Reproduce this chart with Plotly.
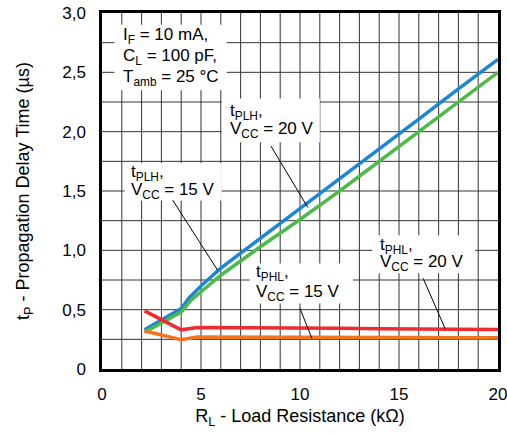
import plotly.graph_objects as go

# Load resistance (kOhm) and propagation delay (us) for each curve
rl_plh20 = [2.15, 4.0, 4.4, 5.0, 6.0, 8.0, 10.0, 12.0, 14.0, 16.0, 18.0, 20.0]
tplh_20 = [0.33, 0.51, 0.60, 0.70, 0.85, 1.10, 1.35, 1.60, 1.855, 2.105, 2.36, 2.61]

rl_plh15 = [2.15, 4.0, 4.5, 5.0, 6.0, 8.0, 10.0, 12.0, 14.0, 16.0, 18.0, 20.0]
tplh_15 = [0.31, 0.48, 0.58, 0.65, 0.79, 1.03, 1.26, 1.50, 1.75, 2.00, 2.25, 2.50]

rl_phl = [2.15, 4.0, 4.8, 6.0, 8.0, 10.0, 12.0, 14.0, 16.0, 18.0, 20.0]
tphl_20 = [0.49, 0.33, 0.35, 0.35, 0.35, 0.345, 0.343, 0.34, 0.338, 0.335, 0.333]
tphl_15 = [0.32, 0.247, 0.27, 0.27, 0.27, 0.268, 0.267, 0.266, 0.265, 0.264, 0.264]

# Labelled ticks
x_ticks = [0, 5, 10, 15, 20]
x_tick_text = ["0", "5", "10", "15", "20"]
y_ticks = [0, 0.5, 1.0, 1.5, 2.0, 2.5, 3.0]
y_tick_text = ["0", "0,5", "1,0", "1,5", "2,0", "2,5", "3,0"]

# Grid divisions: every 1 kOhm and every 0.25 us
X_MAX, Y_MAX = 20, 3.0
X_STEP, Y_STEP = 1, 0.25

FONT = "Liberation Sans, Arial, sans-serif"
BLUE = "#1c86d1"
GREEN = "#4dba4a"
RED = "#ee2b30"
ORANGE = "#f3731f"
GRID = "#333333"

fig = go.Figure()

# Grid drawn as one polyline trace beneath the curves
gx, gy = [], []
n_x = int(round(X_MAX / X_STEP))
for i in range(1, n_x):
    v = i * X_STEP
    gx += [v, v, None]
    gy += [0, Y_MAX, None]
n_y = int(round(Y_MAX / Y_STEP))
for j in range(1, n_y):
    v = j * Y_STEP
    gx += [0, X_MAX, None]
    gy += [v, v, None]
fig.add_trace(go.Scatter(x=gx, y=gy, mode="lines", hoverinfo="skip",
                         line=dict(color=GRID, width=1)))

fig.add_trace(go.Scatter(x=rl_plh20, y=tplh_20, mode="lines",
                         line=dict(color=BLUE, width=3.5)))
fig.add_trace(go.Scatter(x=rl_plh15, y=tplh_15, mode="lines",
                         line=dict(color=GREEN, width=3.5)))
fig.add_trace(go.Scatter(x=rl_phl, y=tphl_15, mode="lines",
                         line=dict(color=ORANGE, width=3.5)))
fig.add_trace(go.Scatter(x=rl_phl, y=tphl_20, mode="lines",
                         line=dict(color=RED, width=3.5)))

# White label boxes that blank out the grid behind the text
boxes = [
    (0.63, 6.30, 2.35, 2.90),
    (6.05, 11.0, 1.91, 2.28),
    (1.14, 6.05, 1.42, 1.735),
    (7.46, 12.67, 0.553, 0.89),
    (13.64, 18.85, 0.807, 1.127),
]
for x0, x1, y0, y1 in boxes:
    fig.add_shape(type="rect", x0=x0, x1=x1, y0=y0, y1=y1, xref="x", yref="y",
                  fillcolor="white", line=dict(width=0), layer="above")

# Leader lines from labels to curves
leaders = [
    (8.53, 1.88, 10.40, 1.36),
    (3.57, 1.423, 5.84, 0.832),
    (10.0, 0.51, 10.6, 0.258),
    (16.22, 0.764, 17.33, 0.34),
]
for x0, y0, x1, y1 in leaders:
    fig.add_shape(type="line", x0=x0, y0=y0, x1=x1, y1=y1, xref="x", yref="y",
                  line=dict(color="black", width=1), layer="above")

labels = [
    (0.94, 2.804, "I<sub>F</sub> = 10 mA,"),
    (0.94, 2.627, "C<sub>L</sub> = 100 pF,"),
    (0.94, 2.454, "T<sub>amb</sub> = 25 °C"),
    (6.35, 2.162, "t<sub>PLH</sub>,"),
    (6.35, 2.012, "V<sub>CC</sub> = 20 V"),
    (1.37, 1.651, "t<sub>PLH</sub>,"),
    (1.37, 1.499, "V<sub>CC</sub> = 15 V"),
    (7.67, 0.807, "t<sub>PHL</sub>,"),
    (7.67, 0.642, "V<sub>CC</sub> = 15 V"),
    (13.95, 1.039, "t<sub>PHL</sub>,"),
    (13.95, 0.891, "V<sub>CC</sub> = 20 V"),
]
for x, y, txt in labels:
    fig.add_annotation(x=x, y=y, xref="x", yref="y", text=txt, showarrow=False,
                       xanchor="left", yanchor="middle",
                       font=dict(family=FONT, size=17, color="black"))

axis_common = dict(
    showline=True, mirror=True, linecolor="black", linewidth=2.5,
    showgrid=False, zeroline=False, automargin=False, ticklabeloverflow="allow",
    ticks="outside", tickcolor="rgba(0,0,0,0)",
    tickfont=dict(family=FONT, size=17, color="black"),
)

fig.update_xaxes(
    range=[0, X_MAX], tickmode="array", tickvals=x_ticks, ticktext=x_tick_text,
    ticklen=8,
    title=dict(text="R<sub>L</sub> - Load Resistance (kΩ)", standoff=7,
               font=dict(family=FONT, size=18, color="black")),
    **axis_common,
)
fig.update_yaxes(
    range=[0, Y_MAX], tickmode="array", tickvals=y_ticks, ticktext=y_tick_text,
    ticklen=10,
    title=dict(text="t<sub>P</sub> - Propagation Delay Time (µs)", standoff=28,
               font=dict(family=FONT, size=18, color="black")),
    **axis_common,
)

fig.update_layout(
    width=507, height=436,
    margin=dict(l=102, r=9, t=13, b=67),
    paper_bgcolor="white", plot_bgcolor="white",
    showlegend=False,
    font=dict(family=FONT, color="black"),
)

fig.write_html("out.html")
